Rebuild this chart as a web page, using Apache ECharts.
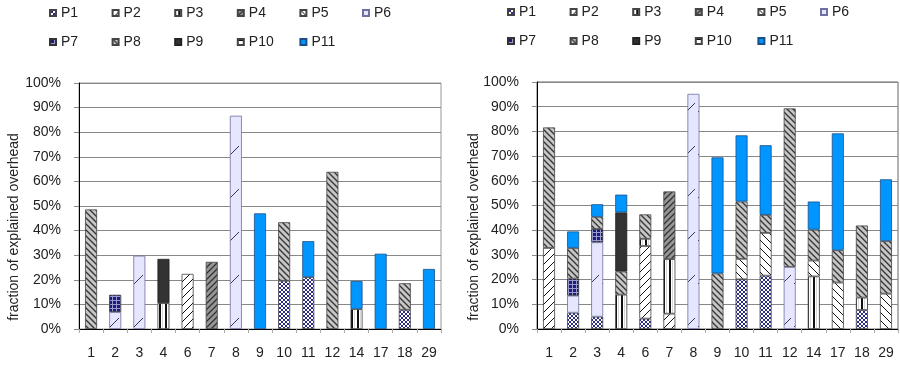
<!DOCTYPE html>
<html>
<head>
<meta charset="utf-8">
<script src="https://cdn.jsdelivr.net/npm/echarts@6/dist/echarts.min.js"></script>
<style>
  html, body { margin: 0; padding: 0; background: #fff; }
  #chart { width: 900px; height: 367px; }
</style>
</head>
<body>
<div id="chart"></div>
<script>
// categories on the x axis (same for both panels)
const categories = ['1', '2', '3', '4', '6', '7', '8', '9', '10', '11', '12', '14', '17', '18', '29'];
const seriesNames = ['P1', 'P2', 'P3', 'P4', 'P5', 'P6', 'P7', 'P8', 'P9', 'P10', 'P11'];
const yTicks = [0, 10, 20, 30, 40, 50, 60, 70, 80, 90, 100];
const yTitle = 'fraction of explained overhead';

// left panel, percent of explained overhead
const leftP1 = [0, 0, 0, 0, 0, 0, 0, 0, 19.6, 21.1, 0, 0, 0, 7.8, 0];
const leftP2 = [0, 0, 0, 0, 22.4, 0, 0, 0, 0, 0, 0, 0, 0, 0, 0];
const leftP3 = [0, 0, 0, 10.5, 0, 0, 0, 0, 0, 0, 0, 8.1, 0, 0, 0];
const leftP4 = [0, 0, 0, 0, 0, 27.3, 0, 0, 0, 0, 0, 0, 0, 0, 0];
const leftP5 = [0, 0, 0, 0, 0, 0, 0, 0, 0, 0, 0, 0, 0, 0, 0];
const leftP6 = [0, 6.9, 29.8, 0, 0, 0, 86.7, 0, 0, 0, 0, 0, 0, 0, 0];
const leftP7 = [0, 7, 0, 0, 0, 0, 0, 0, 0, 0, 0, 0, 0, 0, 0];
const leftP8 = [48.6, 0, 0, 0, 0, 0, 0, 0, 23.8, 0, 63.9, 0, 0, 10.8, 0];
const leftP9 = [0, 0, 0, 18, 0, 0, 0, 0, 0, 0, 0, 0, 0, 0, 0];
const leftP10 = [0, 0, 0, 0, 0, 0, 0, 0, 0, 0, 0, 0, 0, 0, 0];
const leftP11 = [0, 0, 0, 0, 0, 0, 0, 47, 0, 14.6, 0, 11.4, 30.6, 0, 24.4];

// right panel
const rightP1 = [0, 6.6, 5, 0, 4.2, 0, 0, 0, 20.1, 21.6, 0, 0, 0, 7.7, 0];
const rightP2 = [32.8, 0, 0, 0, 29.4, 6.2, 0, 0, 0, 0, 0, 0, 0, 0, 0];
const rightP3 = [0, 0, 0, 13.9, 2.9, 22.1, 0, 0, 0, 0, 0, 21.3, 0, 5, 0];
const rightP4 = [0, 0, 0, 0, 0, 27.4, 0, 0, 0, 0, 0, 0, 0, 0, 0];
const rightP5 = [0, 0, 0, 0, 0, 0, 0, 0, 8.3, 17.3, 0, 6.4, 18.8, 0, 14.3];
const rightP6 = [0, 6.9, 30.1, 0, 0, 0, 95.2, 0, 0, 0, 25.1, 0, 0, 0, 0];
const rightP7 = [0, 6.9, 5.4, 0, 0, 0, 0, 0, 0, 0, 0, 0, 0, 0, 0];
const rightP8 = [48.8, 12.4, 4.9, 9.4, 9.9, 0, 0, 22.5, 23.2, 7.3, 64.2, 12.5, 13.1, 29.2, 21.3];
const rightP9 = [0, 0, 0, 23.9, 0, 0, 0, 0, 0, 0, 0, 0, 0, 0, 0];
const rightP10 = [0, 0, 0, 0, 0, 0, 0, 0, 0, 0, 0, 0, 0, 0, 0];
const rightP11 = [0, 6.7, 5.1, 7.2, 0, 0, 0, 47, 26.8, 28.2, 0, 11.4, 47.3, 0, 25];

const leftData = [leftP1, leftP2, leftP3, leftP4, leftP5, leftP6, leftP7, leftP8, leftP9, leftP10, leftP11];
const rightData = [rightP1, rightP2, rightP3, rightP4, rightP5, rightP6, rightP7, rightP8, rightP9, rightP10, rightP11];

const font = 'Liberation Sans, Arial, sans-serif';
const textColor = '#222';

// excel-like fill patterns drawn on a small canvas tile
function tile(w, h, bg, draw) {
  const c = document.createElement('canvas');
  c.width = w;
  c.height = h;
  const g = c.getContext('2d');
  g.fillStyle = bg;
  g.fillRect(0, 0, w, h);
  draw(g);
  return { image: c, repeat: 'repeat' };
}
function lines(g, color, width, segs) {
  g.strokeStyle = color;
  g.lineWidth = width;
  g.beginPath();
  segs.forEach((s) => {
    g.moveTo(s[0], s[1]);
    g.lineTo(s[2], s[3]);
  });
  g.stroke();
}
// "/" hatch
function up(s, bg, fg, w) {
  return tile(s, s, bg, (g) => lines(g, fg, w, [[0, s, s, 0], [-1, 1, 1, -1], [s - 1, s + 1, s + 1, s - 1]]));
}
// "\" hatch
function down(s, bg, fg, w) {
  return tile(s, s, bg, (g) => lines(g, fg, w, [[0, 0, s, s], [-1, s - 1, 1, s + 1], [s - 1, -1, s + 1, 1]]));
}

const fills = [
  tile(4, 4, '#ffffff', (g) => lines(g, '#2b2b88', 1, [[0, 0, 4, 4], [4, 0, 0, 4]])), // P1
  up(8, '#ffffff', '#111111', 1), // P2
  tile(6, 6, '#ffffff', (g) => {
    g.fillStyle = '#d8d8d8';
    g.fillRect(0, 0, 1, 6);
    g.fillStyle = '#111111';
    g.fillRect(3, 0, 2, 6);
  }), // P3
  up(6, '#969696', '#333333', 1.3), // P4
  down(8, '#ffffff', '#111111', 1), // P5
  tile(12, 43, '#e6e6ff', (g) => lines(g, '#333355', 1, [[2, 26, 11, 17]])), // P6
  tile(4, 4, '#1c1c7c', (g) => lines(g, '#9a9acc', 1, [[0.5, 0, 0.5, 4], [0, 0.5, 4, 0.5]])), // P7
  down(6, '#c6c6c6', '#333333', 1.3), // P8
  '#333333', // P9
  tile(4, 4, '#ffffff', (g) => lines(g, '#111111', 1, [[0, 1.5, 4, 1.5]])), // P10
  '#0096ff', // P11
];
const borders = ['#444', '#444', '#444', '#444', '#444', '#7070a0', '#333', '#444', '#222', '#444', '#1a4f86'];

const grids = [
  { left: 79, right: 459, top: 83, bottom: 38, show: true, borderColor: '#999', borderWidth: 1 },
  { left: 537, right: 2, top: 82, bottom: 38, show: true, borderColor: '#666', borderWidth: 1 },
];

function xAxis(i) {
  return {
    type: 'category',
    gridIndex: i,
    data: categories,
    axisLine: { lineStyle: { color: '#000', width: 1 } },
    axisTick: { show: true, length: 4, lineStyle: { color: '#aaa' } },
    axisLabel: { color: textColor, fontSize: 14, fontFamily: font, margin: 17 },
  };
}
function yAxis(i) {
  return {
    type: 'value',
    gridIndex: i,
    min: yTicks[0],
    max: yTicks[yTicks.length - 1],
    interval: yTicks[1] - yTicks[0],
    axisLine: { show: true, lineStyle: { color: '#000', width: 1 } },
    axisTick: { show: true, length: 5, lineStyle: { color: '#888' } },
    axisLabel: { color: textColor, fontSize: 14, fontFamily: font, margin: 18, formatter: '{value}%' },
    splitLine: { lineStyle: { color: '#888', width: 1 } },
  };
}

const series = [];
[leftData, rightData].forEach((panel, p) => {
  panel.forEach((vals, k) => {
    series.push({
      name: seriesNames[k],
      type: 'bar',
      stack: 'panel' + p,
      xAxisIndex: p,
      yAxisIndex: p,
      barWidth: 12,
      data: vals.map((v) => (v === 0 ? null : v)),
      itemStyle: { color: fills[k], borderColor: borders[k], borderWidth: 0.8 },
      emphasis: { disabled: true },
    });
  });
});

// legend: two rows of six per panel, one component per item
const legendX = [49, 507];
const legendY = [[6, 35], [5, 34]];
const legends = [];
[0, 1].forEach((p) => {
  seriesNames.forEach((n, i) => {
    legends.push({
      data: [n],
      left: legendX[p] + (i % 6) * 62.6,
      top: legendY[p][i < 6 ? 0 : 1],
      padding: 0,
      icon: 'rect',
      itemWidth: 6,
      itemHeight: 6,
      selectedMode: false,
      textStyle: { color: textColor, fontSize: 14, fontFamily: font },
    });
  });
});

const option = {
  animation: false,
  grid: grids,
  xAxis: [xAxis(0), xAxis(1)],
  yAxis: [yAxis(0), yAxis(1)],
  legend: legends,
  series: series,
  graphic: [
    { type: 'text', x: 14, y: 227, rotation: Math.PI / 2,
      style: { text: yTitle, fill: textColor, font: '14px ' + font, textAlign: 'center', textVerticalAlign: 'middle' } },
    { type: 'text', x: 474, y: 227, rotation: Math.PI / 2,
      style: { text: yTitle, fill: textColor, font: '14px ' + font, textAlign: 'center', textVerticalAlign: 'middle' } },
  ],
};

const mychart = echarts.init(document.getElementById('chart'));
mychart.setOption(option);
</script>
</body>
</html>
